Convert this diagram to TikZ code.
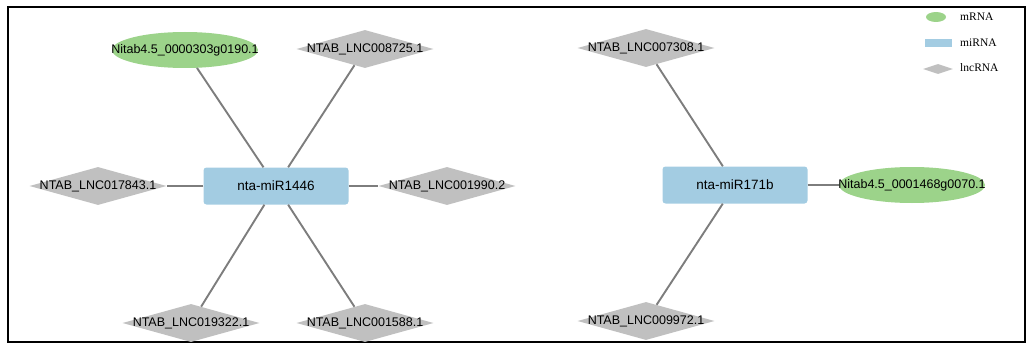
\documentclass[tikz,border=0pt]{standalone}
\usepackage{fontspec}
\setmainfont{Liberation Serif}
\setsansfont{Liberation Sans}
\usepackage{xcolor}
\usepackage{tikz}
\usetikzlibrary{shapes.geometric,positioning,calc}

\definecolor{mgreen}{RGB}{156,211,138}
\definecolor{mblue}{RGB}{163,204,226}
\definecolor{lgray}{RGB}{192,192,192}
\definecolor{egray}{RGB}{125,125,125}

\begin{document}
\begin{tikzpicture}[x=1pt,y=-1pt,
  mrna/.style={ellipse, fill=mgreen, inner sep=0pt, minimum width=146pt, minimum height=36pt,
    font=\sffamily\fontsize{12.5}{14}\selectfont},
  mirna/.style={rectangle, rounded corners=3pt, fill=mblue, inner sep=0pt, minimum width=145pt,
    minimum height=37pt, font=\sffamily\fontsize{13.5}{15}\selectfont},
  lnc/.style={diamond, fill=lgray, inner sep=0pt, minimum width=137pt, minimum height=38pt,
    font=\sffamily\fontsize{12.5}{14}\selectfont},
  link/.style={draw=egray, line width=1.9pt},
  keytext/.style={anchor=west, inner sep=0pt, font=\fontsize{11.5}{13}\selectfont}]
\useasboundingbox (0,0) rectangle (1031,345);
% Frame
\draw[line width=1.5pt] (8,7) rectangle (1025,342);

% First network
\node[mirna] (mir1) at (276,186) {nta-miR1446};
\node[mrna] (m1) at (185,50) {\makebox[0pt]{Nitab4.5\_0000303g0190.1}};
\node[lnc] (l1) at (365,49) {\makebox[0pt]{NTAB\_LNC008725.1}};
\node[lnc] (l2) at (98,186) {\makebox[0pt]{NTAB\_LNC017843.1}};
\node[lnc] (l3) at (447,186) {\makebox[0pt]{NTAB\_LNC001990.2}};
\node[lnc] (l4) at (191,323) {\makebox[0pt]{NTAB\_LNC019322.1}};
\node[lnc] (l5) at (365,323) {\makebox[0pt]{NTAB\_LNC001588.1}};
\foreach \t in {m1,l1,l2,l3,l4,l5}
  \draw[link] (mir1) -- (\t);

% Second network
\node[mirna] (mir2) at (735,185) {nta-miR171b};
\node[lnc] (l6) at (646,48) {\makebox[0pt]{NTAB\_LNC007308.1}};
\node[mrna] (m2) at (912,185) {\makebox[0pt]{Nitab4.5\_0001468g0070.1}};
\node[lnc] (l7) at (646,321) {\makebox[0pt]{NTAB\_LNC009972.1}};
\foreach \t in {l6,m2,l7}
  \draw[link] (mir2) -- (\t);

% Legend
\node[ellipse, fill=mgreen, minimum width=20pt, minimum height=10pt, inner sep=0pt] (km) at (936,17) {};
\node[rectangle, fill=mblue, minimum width=27pt, minimum height=8pt, inner sep=0pt] (kmi) at (938,43) {};
\node[diamond, fill=lgray, minimum width=30pt, minimum height=10pt, inner sep=0pt] (kl) at (938,69) {};
\node[keytext] (kmt) at (960,17) {mRNA};
\node[keytext] (kmit) at (960,43) {miRNA};
\node[keytext] (klt) at (960,68) {lncRNA};
\end{tikzpicture}
\end{document}
